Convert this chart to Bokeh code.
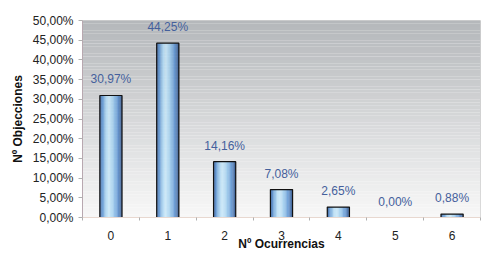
from bokeh.plotting import figure
from bokeh.models import FixedTicker, Range1d, ColumnDataSource, CustomJSTickFormatter
from bokeh.core.properties import value
from bokeh.embed import file_html
from bokeh.resources import INLINE
import numpy as np

categories = [0, 1, 2, 3, 4, 5, 6]
percents = [30.97, 44.25, 14.16, 7.08, 2.65, 0.00, 0.88]
labels = ["30,97%", "44,25%", "14,16%", "7,08%", "2,65%", "0,00%", "0,88%"]
y_ticks = [0, 5, 10, 15, 20, 25, 30, 35, 40, 45, 50]
x_title = "Nº Ocurrencias"
y_title = "Nº Objecciones"

x_lo, x_hi = -0.5, 6.5
p = figure(width=483, height=253, output_backend="svg", toolbar_location=None,
           x_range=Range1d(x_lo, x_hi), y_range=Range1d(0, 50),
           min_border_left=82, min_border_right=3, min_border_top=20, min_border_bottom=36)
p.outline_line_color = "#d0d0d0"
p.grid.visible = False
p.background_fill_color = "white"
p.border_fill_color = "white"

def hexc(c):
    return "#%02x%02x%02x" % tuple(int(round(v)) for v in c)

# background vertical gradient (grey top -> white bottom)
nb = 60
edges = np.linspace(0, 50, nb + 1)
top_c = np.array([0xb4, 0xb7, 0xba])
bot_c = np.array([0xf8, 0xf8, 0xf8])
cols = [hexc(bot_c * (1 - (i + 0.5) / nb) + top_c * ((i + 0.5) / nb)) for i in range(nb)]
p.quad(left=x_lo, right=x_hi, bottom=edges[:-1], top=edges[1:], fill_color=cols, line_color=None)

# horizontal gradient for bars made of thin strips
bar_w = 0.39
key_pos = np.array([0.0, 0.12, 0.3, 0.42, 0.6, 0.8, 1.0])
key_rgb = np.array([[0x2a, 0x52, 0x94], [0x55, 0x90, 0xd0], [0xb0, 0xda, 0xf4], [0xc6, 0xe7, 0xf9],
                    [0x9c, 0xcc, 0xee], [0x5c, 0x94, 0xd4], [0x26, 0x4a, 0x84]])
ns = 28
strip_cols = []
for k in range(ns):
    t = (k + 0.5) / ns
    strip_cols.append(hexc([np.interp(t, key_pos, key_rgb[:, j]) for j in range(3)]))
sl, sr, sb, st, sc = [], [], [], [], []
for c, v in zip(categories, percents):
    for k in range(ns):
        l = c - bar_w / 2 + bar_w * k / ns
        sl.append(l); sr.append(l + bar_w / ns * 1.05); sb.append(0); st.append(v); sc.append(strip_cols[k])
p.quad(left=sl, right=sr, bottom=sb, top=st, fill_color=sc, line_color=None)
p.vbar(x=categories, width=bar_w, top=percents, fill_color=None, line_color="#111111", line_width=1.2)

src = ColumnDataSource(dict(x=categories, y=percents, t=labels))
p.text(x="x", y="y", text="t", source=src, text_align="center", text_baseline="bottom",
       y_offset=-9, text_font=value("Liberation Sans"), text_font_size="12px", text_color="#44609c")

# axes
p.yaxis.ticker = FixedTicker(ticks=y_ticks)
p.yaxis.formatter = CustomJSTickFormatter(code="return tick.toFixed(2).replace('.', ',') + '%';")
p.yaxis.major_label_text_font = "Liberation Sans"
p.yaxis.major_label_text_font_size = "12px"
p.yaxis.major_label_text_color = "#222222"
p.yaxis.axis_line_color = "#b8a8b0"
p.yaxis.major_tick_line_color = "#b0b0b0"
p.yaxis.major_tick_out = 4
p.yaxis.major_tick_in = 0
p.yaxis.minor_tick_line_color = None
p.yaxis.major_label_standoff = 5
p.yaxis.axis_label = y_title
p.yaxis.axis_label_text_font = "Liberation Sans"
p.yaxis.axis_label_text_font_style = "bold"
p.yaxis.axis_label_text_font_size = "12px"
p.yaxis.axis_label_text_color = "#111111"
p.yaxis.axis_label_standoff = 5

p.xaxis.ticker = FixedTicker(ticks=categories, minor_ticks=[-0.5, 0.5, 1.5, 2.5, 3.5, 4.5, 5.5, 6.5])
p.xaxis.major_label_text_font = "Liberation Sans"
p.xaxis.major_label_text_font_size = "12px"
p.xaxis.major_label_text_color = "#222222"
p.xaxis.axis_line_color = "#e8d8d0"
p.xaxis.major_tick_line_color = None
p.xaxis.major_tick_out = 0
p.xaxis.major_tick_in = 0
p.xaxis.minor_tick_line_color = "#b0b0b0"
p.xaxis.minor_tick_out = 3
p.xaxis.minor_tick_in = 0
p.xaxis.major_label_standoff = 10
p.xaxis.axis_label = x_title
p.xaxis.axis_label_text_font = "Liberation Sans"
p.xaxis.axis_label_text_font_style = "bold"
p.xaxis.axis_label_text_font_size = "12px"
p.xaxis.axis_label_text_color = "#111111"
p.xaxis.axis_label_standoff = -6

open("out.html", "w").write(file_html(p, INLINE))
